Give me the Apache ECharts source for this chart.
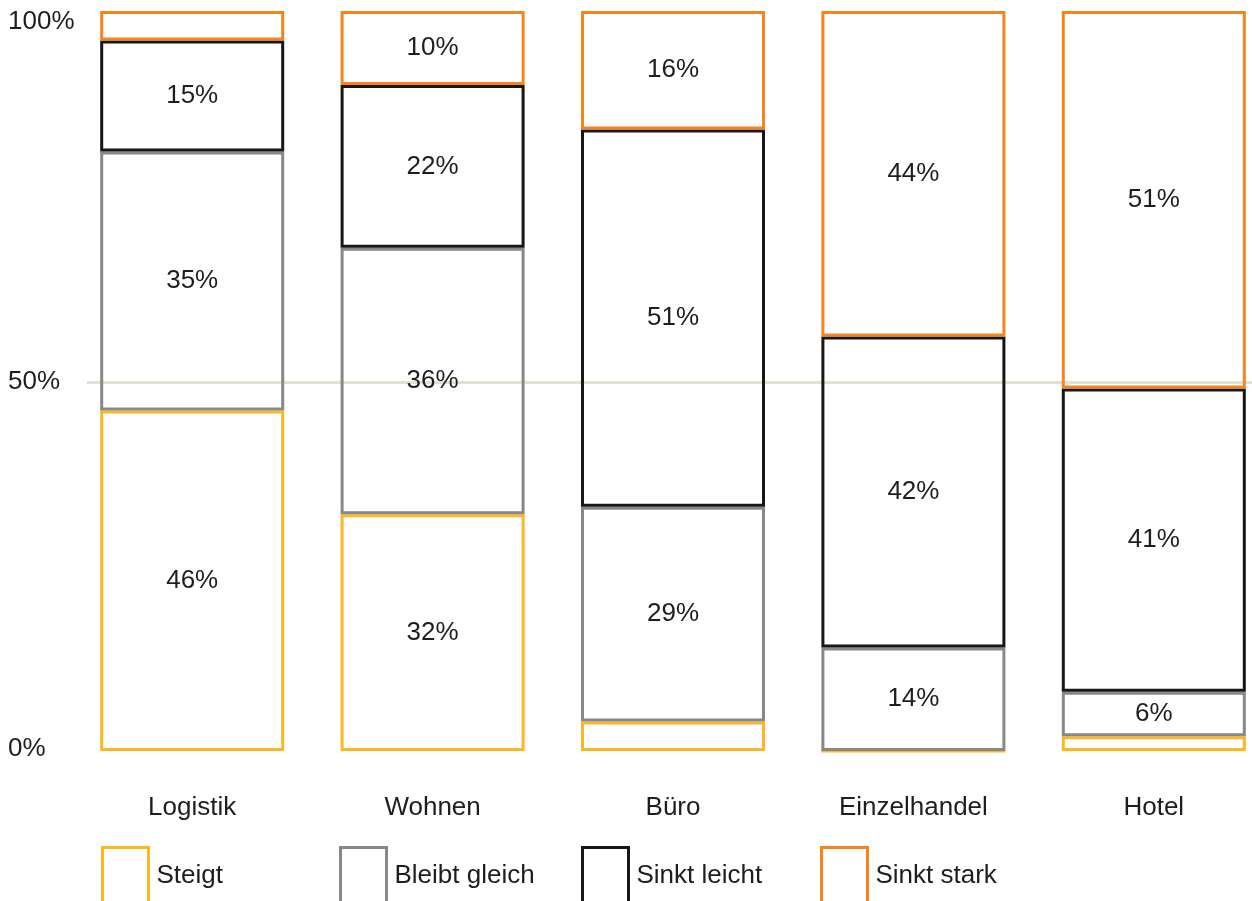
<!DOCTYPE html>
<html>
<head>
<meta charset="utf-8">
<script src="https://cdn.jsdelivr.net/npm/echarts@6/dist/echarts.min.js"></script>
<style>html,body{margin:0;padding:0;background:#fff;overflow:hidden;}#c{width:1290px;height:901px;}</style>
</head>
<body>
<div id="c"></div>
<script>
const categories = ['Logistik', 'Wohnen', 'Büro', 'Einzelhandel', 'Hotel'];
const steigt = [46, 32, 4, 0, 2];
const bleibtGleich = [35, 36, 29, 14, 6];
const sinktLeicht = [15, 22, 51, 42, 41];
const sinktStark = [4, 10, 16, 44, 51];
const yTicks = [0, 50, 100];
const seriesNames = ['Steigt', 'Bleibt gleich', 'Sinkt leicht', 'Sinkt stark'];

const colors = ['#FBB822', '#888888', '#171717', '#F5841F'];
const FONT = "'Liberation Sans', Arial, sans-serif";
const TXT = '#1e1e1e';
const FS = 26;
const dataSets = [steigt, bleibtGleich, sinktLeicht, sinktStark];

const chart = echarts.init(document.getElementById('c'), null, {renderer: 'canvas'});

const series = dataSets.map((d, i) => ({
  name: seriesNames[i],
  type: 'bar',
  stack: 'total',
  xAxisIndex: 0,
  yAxisIndex: 0,
  barWidth: 184,
  data: d,
  itemStyle: {color: 'rgba(0,0,0,0)', borderColor: colors[i], borderWidth: 3},
  emphasis: {disabled: true},
  label: {
    show: true,
    position: 'inside',
    color: TXT,
    fontFamily: FONT,
    fontSize: FS,
    formatter: p => (p.value >= 5 ? p.value + '%' : '')
  }
}));

const legendLefts = [101, 339, 581, 820];
const legends = seriesNames.map((n, i) => ({
  show: true,
  left: legendLefts[i],
  top: 846,
  orient: 'horizontal',
  selectedMode: false,
  itemWidth: 46,
  itemHeight: 56,
  icon: 'rect',
  padding: 0,
  textStyle: {color: TXT, fontFamily: FONT, fontSize: FS, padding: [8, 0, 0, 3]},
  data: [{name: n, icon: 'rect', itemStyle: {color: 'rgba(0,0,0,0)', borderColor: colors[i], borderWidth: 3}}]
}));

chart.setOption({
  animation: false,
  backgroundColor: '#fff',
  grid: [
    {left: 72, top: 11, width: 1202, bottom: 150},
    {left: 87, top: 15, width: 1200, bottom: 152}
  ],
  legend: legends,
  xAxis: [
    {
      type: 'category', gridIndex: 0, data: categories,
      axisLine: {show: false}, axisTick: {show: false},
      axisLabel: {color: TXT, fontFamily: FONT, fontSize: FS, margin: 44}
    },
    {type: 'value', gridIndex: 1, min: 0, max: 1, show: false}
  ],
  yAxis: [
    {type: 'value', gridIndex: 0, min: 0, max: 100, show: false},
    {
      type: 'value', gridIndex: 1, min: yTicks[0], max: yTicks[yTicks.length - 1], interval: 50,
      axisLine: {show: false}, axisTick: {show: false},
      splitLine: {show: true, lineStyle: {color: ['rgba(0,0,0,0)', '#e3e0d6', 'rgba(0,0,0,0)'], width: 3}},
      axisLabel: {
        color: TXT, fontFamily: FONT, fontSize: FS, align: 'left', margin: 79,
        formatter: v => (v === 100 ? '{t|' + v + '%}' : v + '%'),
        rich: {t: {color: TXT, fontFamily: FONT, fontSize: FS, padding: [14, 0, 0, 0]}}
      }
    }
  ],
  series: series
});
</script>
</body>
</html>
